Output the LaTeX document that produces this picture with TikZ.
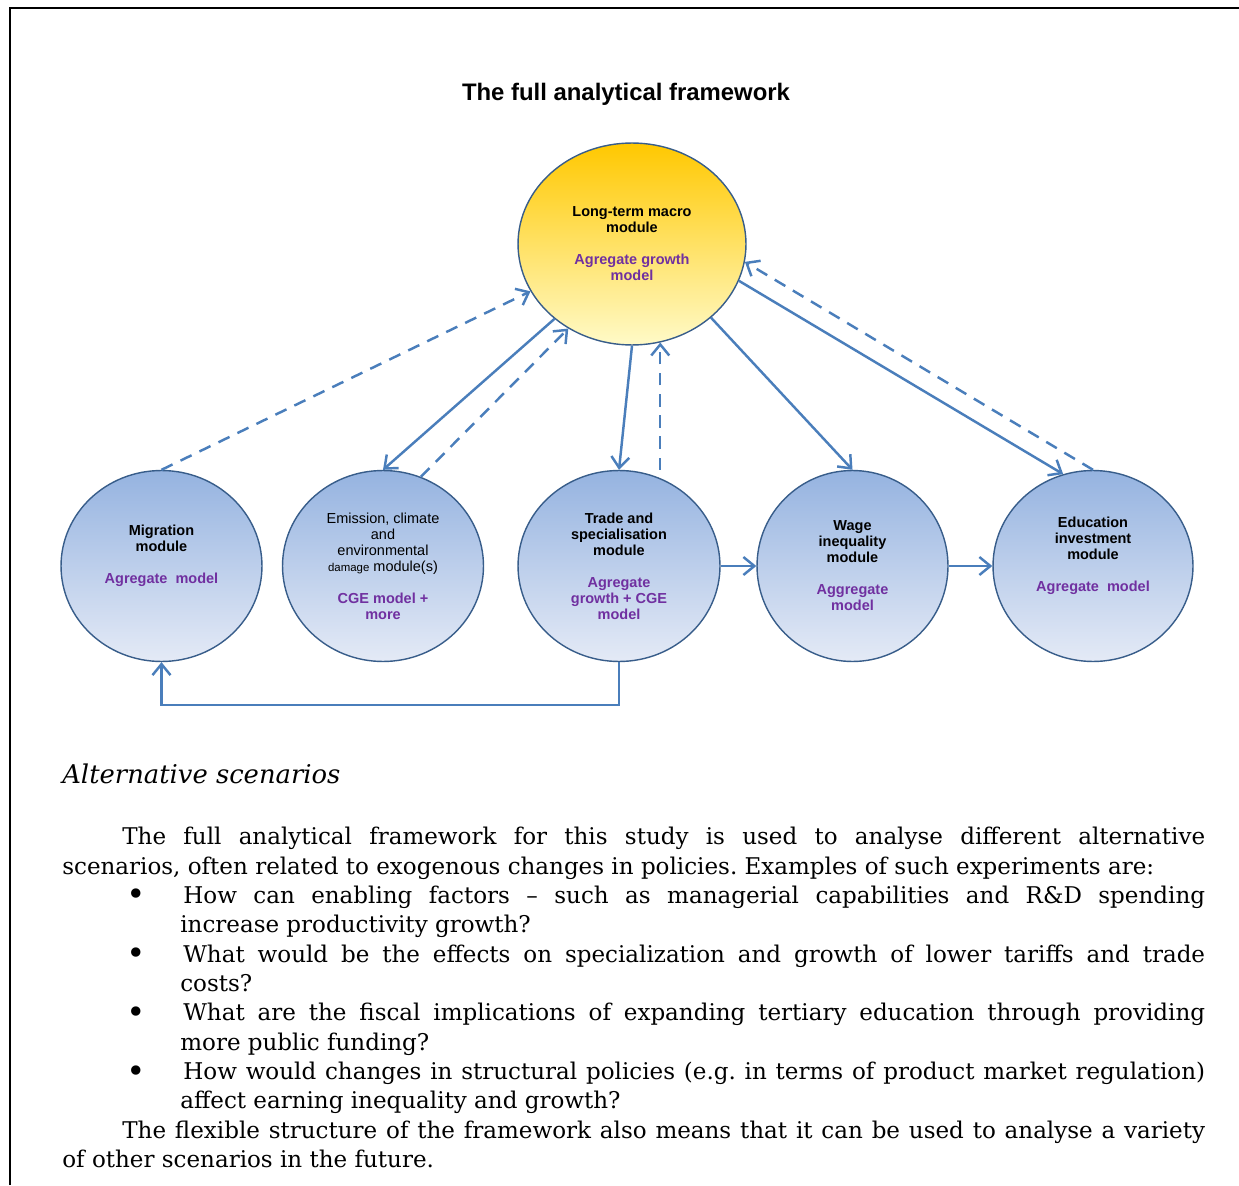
\documentclass[tikz,border=0pt]{standalone}
\usepackage{fontspec}
\usepackage{graphicx}
\setmainfont{DejaVu Serif}
\newfontfamily\arial{Liberation Sans}
\usetikzlibrary{shapes.geometric,arrows.meta}
\definecolor{flowblue}{HTML}{4A7EBB}
\definecolor{rimblue}{HTML}{385D8A}
\definecolor{modpurple}{HTML}{7030A0}
\definecolor{macrotop}{RGB}{255,200,0}
\definecolor{macrobot}{RGB}{255,250,200}
\definecolor{moduletop}{RGB}{149,179,224}
\definecolor{modulebot}{RGB}{228,234,246}
\newcommand{\agr}[1]{\textcolor{modpurple}{\bfseries #1}}
\newcommand{\bulletline}{\noindent\llap{\raisebox{-1.4pt}{\scalebox{1.4}{\textbullet}}\hspace{0.7cm}}\hspace{0.06cm}}
\begin{document}
\begin{tikzpicture}[x=0.02cm,y=-0.02cm,
  module/.style={ellipse,draw=rimblue,line width=0.8pt,top color=moduletop,bottom color=modulebot,
    inner sep=0pt,align=center,font=\arial\bfseries\fontsize{8.25}{9.1}\selectfont,
    minimum width=4.02cm,minimum height=3.82cm},
  macromod/.style={module,top color=macrotop,bottom color=macrobot,minimum width=4.56cm,minimum height=4.04cm},
  flow/.style={draw=flowblue,line width=1.4pt,-{Straight Barb[length=2.2mm,width=3.6mm]}},
  feedback/.style={flow,dash pattern=on 7pt off 5pt}]
\useasboundingbox (0,0) rectangle (1239,1185);
% Draw the frame
\draw[line width=1.1pt] (10,1185) -- (10,8) -- (1239,8);
\node[font=\arial\bfseries\fontsize{13.6}{16}\selectfont] (title) at (626,94.5) {The full analytical framework};
% Draw the modules
\node[macromod] (macro) at (632,244) {Long-term macro\\module\\[9.1pt]\agr{Agregate growth}\\\agr{model}};
\node[module] (mig) at (161.5,566) {Migration\\module\\[9.1pt]\agr{Agregate~~model}\\[4.5pt]\mbox{}};
\node[module,font=\arial\fontsize{8.25}{9.1}\selectfont] (emis) at (383,566) {Emission, climate\\and\\environmental\\{\fontsize{6.5}{9.1}\selectfont damage} module(s)\\[9.1pt]\agr{CGE model +}\\\agr{more}};
\node[module,minimum width=4.04cm] (trade) at (619,566) {Trade and\\specialisation\\module\\[9.1pt]\agr{Agregate}\\\agr{growth + CGE}\\\agr{model}};
\node[module,minimum width=3.82cm] (wage) at (852.5,566) {Wage\\inequality\\module\\[9.1pt]\agr{Aggregate}\\\agr{model}};
\node[module,minimum width=4.0cm] (edu) at (1093,566) {Education\\investment\\module\\[9.1pt]\agr{Agregate~~model}\\[4.5pt]\mbox{}};
% Draw the links to and from the macro module
\draw[feedback] (mig.north) -- (macro.205);
\draw[flow] (macro.224) -- (emis.north);
\draw[feedback] (emis.67) -- (macro.233);
\draw[flow] (macro.south) -- (trade.north);
\draw[feedback] (macro.286 |- trade.north) -- (macro.286);
\draw[flow] (macro.317) -- (wage.north);
\draw[flow] (macro.341) -- (edu.108);
\draw[feedback] (edu.north) -- (macro.351);
% Draw the links between modules
\draw[flow] (trade.east) -- (wage.west);
\draw[flow] (wage.east) -- (edu.west);
\draw[flow] (trade.south) -- ++(0,43) -| (mig.south);
% Draw the scenario text
\node[anchor=base west,inner sep=0pt,font=\itshape\fontsize{14.7}{17}\selectfont] (scen) at (62,783) {Alternative scenarios};
\node[anchor=north west,inner sep=0pt,text width=22.86cm,align=justify,font=\fontsize{13.1}{16.7}\selectfont] (body) at (62,827) {%
\frenchspacing
\hspace*{1.2cm}The full analytical framework for this study is used to analyse different alternative\linebreak
scenarios, often related to exogenous changes in policies. Examples of such experiments are:\par
{\leftskip=2.36cm\bulletline How can enabling factors -- such as managerial capabilities and R\&D spending\linebreak
increase productivity growth?\par}
{\leftskip=2.36cm\bulletline What would be the effects on specialization and growth of lower tariffs and trade\linebreak
costs?\par}
{\leftskip=2.36cm\bulletline What are the fiscal implications of expanding tertiary education through providing\linebreak
more public funding?\par}
{\leftskip=2.36cm\bulletline How would changes in structural policies (e.g. in terms of product market regulation)\linebreak
affect earning inequality and growth?\par}
\hspace*{1.2cm}The flexible structure of the framework also means that it can be used to analyse a variety\linebreak
of other scenarios in the future.};
\end{tikzpicture}
\end{document}
